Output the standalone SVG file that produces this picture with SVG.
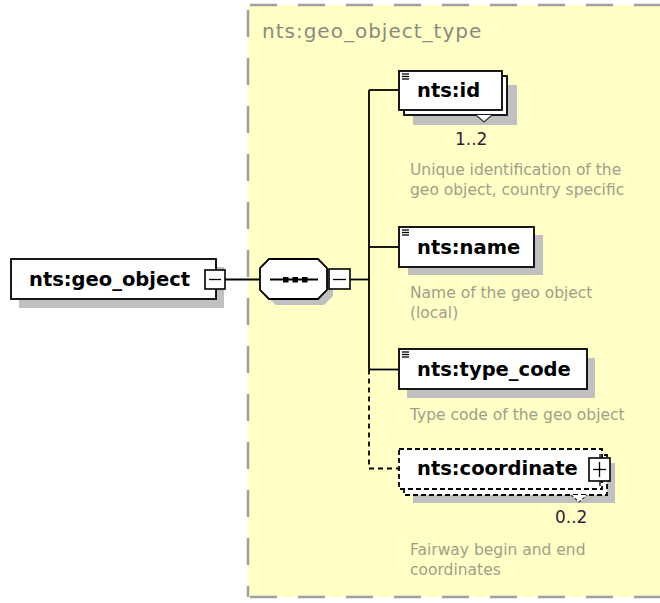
<svg xmlns="http://www.w3.org/2000/svg" width="660" height="603" viewBox="0 0 660 603">
<style>
.lbl{font-family:"DejaVu Sans","Liberation Sans",sans-serif;font-weight:bold;font-size:19.5px;fill:#000}
.desc{font-family:"DejaVu Sans","Liberation Sans",sans-serif;font-size:15.5px;fill:#a09f8a}
.occ{font-family:"DejaVu Sans","Liberation Sans",sans-serif;font-size:17px;fill:#3a1a3a}
.title{font-family:"DejaVu Sans","Liberation Sans",sans-serif;font-size:20px;letter-spacing:1px;fill:#8a8a80}
.box{fill:#fff;stroke:#000;stroke-width:1.8}
.dbox{fill:#fff;stroke:#000;stroke-width:1.8;stroke-dasharray:5 3}
.shadow{fill:#c0c0c0}
.sym{fill:#fff;stroke:#000;stroke-width:1.6}
.line{stroke:#000;stroke-width:1.8;fill:none}
.dline{stroke:#000;stroke-width:1.8;fill:none;stroke-dasharray:5 4}
.icon{stroke:#000;stroke-width:1.3}
.border{stroke:#a0a0a0;stroke-width:2.5;fill:none;stroke-dasharray:27 21}
</style>
<rect x="0" y="0" width="660" height="603" fill="#fff"/>
<g id="geo_object_type">
<rect x="248" y="5" width="420" height="592" fill="#ffffc6"/>
<line class="border" x1="250" y1="5" x2="660" y2="5"/>
<line class="border" x1="248" y1="10" x2="248" y2="597"/>
<line class="border" x1="250" y1="597" x2="660" y2="597"/>
<text class="title" x="262" y="38">nts:geo_object_type</text>
</g>
<g id="connectors">
<line class="line" x1="225" y1="279.5" x2="260" y2="279.5"/>
<line class="line" x1="350" y1="279.5" x2="369" y2="279.5"/>
<line class="line" x1="369" y1="90" x2="369" y2="369.5"/>
<line class="dline" x1="369" y1="369.5" x2="369" y2="468.5"/>
<line class="line" x1="369" y1="90" x2="399" y2="90"/>
<line class="line" x1="369" y1="247" x2="399" y2="247"/>
<line class="line" x1="369" y1="369.5" x2="399" y2="369.5"/>
<line class="dline" x1="369" y1="468.5" x2="399" y2="468.5"/>
</g>
<g id="geo_object">
<rect class="shadow" x="19" y="267" width="205" height="41"/>
<rect class="box" x="11" y="259" width="205" height="40"/>
<text class="lbl" x="29" y="286">nts:geo_object</text>
<rect class="sym" x="205" y="270" width="20" height="19"/>
<line class="icon" x1="209" y1="279.5" x2="221" y2="279.5"/>
</g>
<g id="sequence">
<polygon class="shadow" points="276,265 324,265 333,274 333,296 324,305 276,305 266,296 266,274"/>
<polygon class="box" points="269,259 318,259 327,268 327,290 318,299 269,299 260,290 260,268"/>
<line class="line" x1="270" y1="279.5" x2="318" y2="279.5"/>
<rect x="283" y="277" width="5.5" height="5.5" fill="#000"/>
<rect x="292.5" y="277" width="5.5" height="5.5" fill="#000"/>
<rect x="302" y="277" width="5.5" height="5.5" fill="#000"/>
<rect class="sym" x="329" y="269" width="21" height="20"/>
<line class="icon" x1="333" y1="279.5" x2="346" y2="279.5"/>
</g>
<g id="id">
<rect class="shadow" x="413" y="85" width="104" height="40"/>
<rect class="box" x="404" y="76" width="103" height="39"/>
<polyline points="476,115 484,122 492,115" fill="#fff" stroke="#333" stroke-width="1.2"/>
<rect class="box" x="399" y="71" width="103" height="39"/>
<line class="icon" x1="402" y1="74" x2="409" y2="74"/>
<line class="icon" x1="402" y1="76.5" x2="409" y2="76.5"/>
<line class="icon" x1="402" y1="79" x2="409" y2="79"/>
<text class="lbl" x="417" y="97">nts:id</text>
<text class="occ" x="455" y="145">1..2</text>
<text class="desc" x="410" y="175">Unique identification of the</text>
<text class="desc" x="410" y="195">geo object, country specific</text>
</g>
<g id="name">
<rect class="shadow" x="408" y="235" width="135" height="40"/>
<rect class="box" x="399" y="227" width="135" height="40"/>
<line class="icon" x1="402" y1="230" x2="409" y2="230"/>
<line class="icon" x1="402" y1="232.5" x2="409" y2="232.5"/>
<line class="icon" x1="402" y1="235" x2="409" y2="235"/>
<text class="lbl" x="417" y="254">nts:name</text>
<text class="desc" x="410" y="298">Name of the geo object</text>
<text class="desc" x="410" y="318">(local)</text>
</g>
<g id="type_code">
<rect class="shadow" x="407" y="358" width="188" height="40"/>
<rect class="box" x="399" y="349" width="188" height="40"/>
<line class="icon" x1="402" y1="352" x2="409" y2="352"/>
<line class="icon" x1="402" y1="354.5" x2="409" y2="354.5"/>
<line class="icon" x1="402" y1="357" x2="409" y2="357"/>
<text class="lbl" x="417" y="376">nts:type_code</text>
<text class="desc" x="410" y="420">Type code of the geo object</text>
</g>
<g id="coordinate">
<rect class="shadow" x="413" y="463" width="202" height="40"/>
<rect class="dbox" x="404" y="455" width="203" height="40"/>
<polyline points="571,495 579,502 587,495" fill="#fff" stroke="#333" stroke-width="1.2" stroke-dasharray="3 2"/>
<rect class="dbox" x="399" y="449" width="203" height="40"/>
<text class="lbl" x="417" y="475">nts:coordinate</text>
<line class="icon" x1="600" y1="454" x2="600" y2="486"/>
<rect class="sym" x="589" y="458" width="21" height="23"/>
<line class="icon" x1="593" y1="469.5" x2="606" y2="469.5"/>
<line class="icon" x1="599.5" y1="462" x2="599.5" y2="477"/>
<text class="occ" x="555" y="523">0..2</text>
<text class="desc" x="410" y="555">Fairway begin and end</text>
<text class="desc" x="410" y="575">coordinates</text>
</g>
</svg>
